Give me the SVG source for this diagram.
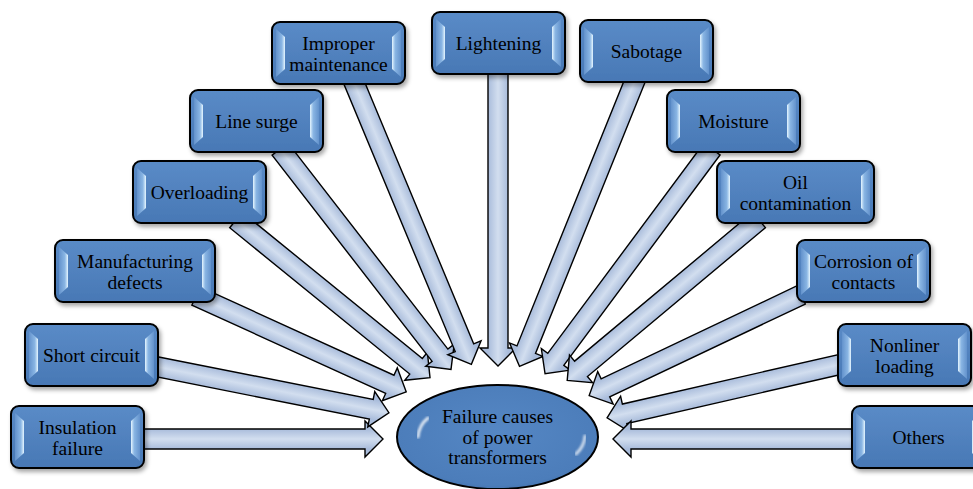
<svg xmlns="http://www.w3.org/2000/svg" xmlns:xlink="http://www.w3.org/1999/xlink" width="973" height="489" viewBox="0 0 973 489">
<style>
.box{fill:url(#boxg);stroke:#000;stroke-width:2;}
.lbl{font-family:"Liberation Serif","Times New Roman",serif;font-size:19.5px;fill:#000;text-anchor:middle;}
.arr{fill:url(#arrg);stroke:#000;stroke-width:1.4;stroke-linejoin:miter;}
</style>
<defs>
<linearGradient id="boxg" x1="0" y1="0" x2="0" y2="1">
<stop offset="0" stop-color="#5a8bc7"/>
<stop offset="1" stop-color="#4878b5"/>
</linearGradient>
<linearGradient id="bevL" x1="0" y1="0" x2="1" y2="0">
<stop offset="0" stop-color="#6392cc"/>
<stop offset="0.65" stop-color="#8ab6e4"/>
<stop offset="1" stop-color="#e6f6ff"/>
</linearGradient>
<linearGradient id="bevR" x1="1" y1="0" x2="0" y2="0">
<stop offset="0" stop-color="#6392cc"/>
<stop offset="0.65" stop-color="#8ab6e4"/>
<stop offset="1" stop-color="#e6f6ff"/>
</linearGradient>
<linearGradient id="arrg" gradientUnits="userSpaceOnUse" x1="0" y1="-10" x2="0" y2="10">
<stop offset="0" stop-color="#a9bcdb"/>
<stop offset="0.5" stop-color="#d2deef"/>
<stop offset="1" stop-color="#a9bcdb"/>
</linearGradient>
<radialGradient id="ellg" cx="0.5" cy="0.45" r="0.6">
<stop offset="0" stop-color="#5587c4"/>
<stop offset="0.85" stop-color="#4c7dba"/>
<stop offset="1" stop-color="#3f6ea8"/>
</radialGradient>
<filter id="sh" x="-10%" y="-10%" width="125%" height="135%">
<feDropShadow dx="2" dy="3" stdDeviation="2" flood-color="#000" flood-opacity="0.35"/>
</filter>
<filter id="blur1"><feGaussianBlur stdDeviation="1.2"/></filter>
<g id="bev133">
<path d="M4,7 L13,15 L13,47 L4,55 Z" fill="url(#bevL)"/>
<path d="M129,7 L120,15 L120,47 L129,55 Z" fill="url(#bevR)"/>
</g>
<g id="bev157">
<path d="M4,7 L13,15 L13,47 L4,55 Z" fill="url(#bevL)"/>
<path d="M153,7 L144,15 L144,47 L153,55 Z" fill="url(#bevR)"/>
</g>
<g id="bev160">
<path d="M4,7 L13,15 L13,47 L4,55 Z" fill="url(#bevL)"/>
<path d="M156,7 L147,15 L147,47 L156,55 Z" fill="url(#bevR)"/>
</g>
</defs>

<g id="connectors">
<path class="arr" transform="translate(140,439) rotate(0)" d="M0,-10 H225 V-18 L243,0 L225,18 V10 H0 Z"/>
<path class="arr" transform="translate(153,366) rotate(11.2)" d="M0,-10 H222.5 V-18 L240.5,0 L222.5,18 V10 H0 Z"/>
<path class="arr" transform="translate(196,296) rotate(24.5)" d="M0,-10 H213 V-18 L231,0 L213,18 V10 H0 Z"/>
<path class="arr" transform="translate(236,220) rotate(39.1)" d="M0,-10 H232 V-18 L250,0 L232,18 V10 H0 Z"/>
<path class="arr" transform="translate(280,149) rotate(52.2)" d="M0,-10 H261 V-18 L279,0 L261,18 V10 H0 Z"/>
<path class="arr" transform="translate(353,80) rotate(67.4)" d="M0,-10 H290 V-18 L308,0 L290,18 V10 H0 Z"/>
<path class="arr" transform="translate(498,71) rotate(90)" d="M0,-10 H277 V-18 L295,0 L277,18 V10 H0 Z"/>
<path class="arr" transform="translate(636,78) rotate(112)" d="M0,-10 H293 V-18 L311,0 L293,18 V10 H0 Z"/>
<path class="arr" transform="translate(712,149) rotate(126.6)" d="M0,-10 H262 V-18 L280,0 L262,18 V10 H0 Z"/>
<path class="arr" transform="translate(759,220) rotate(140.1)" d="M0,-10 H232 V-18 L250,0 L232,18 V10 H0 Z"/>
<path class="arr" transform="translate(801,295) rotate(154.6)" d="M0,-10 H216.5 V-18 L234.5,0 L216.5,18 V10 H0 Z"/>
<path class="arr" transform="translate(842,364) rotate(167.1)" d="M0,-10 H223 V-18 L241,0 L223,18 V10 H0 Z"/>
<path class="arr" transform="translate(856,439) rotate(180)" d="M0,-10 H225 V-18 L243,0 L225,18 V10 H0 Z"/>
</g>

<g id="n-insulation" transform="translate(11,406)">
<rect class="box" width="133" height="62" rx="8" filter="url(#sh)"/><use href="#bev133"/>
<text class="lbl" x="66.5" y="27.5">Insulation</text><text class="lbl" x="66.5" y="48.5">failure</text>
</g>
<g id="n-short" transform="translate(25,324)">
<rect class="box" width="133" height="62" rx="8" filter="url(#sh)"/><use href="#bev133"/>
<text class="lbl" x="66.5" y="37.5">Short circuit</text>
</g>
<g id="n-manufacturing" transform="translate(55,240)">
<rect class="box" width="160" height="62" rx="8" filter="url(#sh)"/><use href="#bev160"/>
<text class="lbl" x="80" y="27.5">Manufacturing</text><text class="lbl" x="80" y="48.5">defects</text>
</g>
<g id="n-overloading" transform="translate(133,161)">
<rect class="box" width="133" height="62" rx="8" filter="url(#sh)"/><use href="#bev133"/>
<text class="lbl" x="66.5" y="37.5">Overloading</text>
</g>
<g id="n-linesurge" transform="translate(190,90)">
<rect class="box" width="133" height="62" rx="8" filter="url(#sh)"/><use href="#bev133"/>
<text class="lbl" x="66.5" y="37.5">Line surge</text>
</g>
<g id="n-improper" transform="translate(272,22)">
<rect class="box" width="133" height="62" rx="8" filter="url(#sh)"/><use href="#bev133"/>
<text class="lbl" x="66.5" y="27.5">Improper</text><text class="lbl" x="66.5" y="48.5">maintenance</text>
</g>
<g id="n-lightening" transform="translate(432,12)">
<rect class="box" width="133" height="62" rx="8" filter="url(#sh)"/><use href="#bev133"/>
<text class="lbl" x="66.5" y="37.5">Lightening</text>
</g>
<g id="n-sabotage" transform="translate(580,20)">
<rect class="box" width="133" height="62" rx="8" filter="url(#sh)"/><use href="#bev133"/>
<text class="lbl" x="66.5" y="37.5">Sabotage</text>
</g>
<g id="n-moisture" transform="translate(667,90)">
<rect class="box" width="133" height="62" rx="8" filter="url(#sh)"/><use href="#bev133"/>
<text class="lbl" x="66.5" y="37.5">Moisture</text>
</g>
<g id="n-oil" transform="translate(717,161)">
<rect class="box" width="157" height="62" rx="8" filter="url(#sh)"/><use href="#bev157"/>
<text class="lbl" x="78.5" y="27.5">Oil</text><text class="lbl" x="78.5" y="48.5">contamination</text>
</g>
<g id="n-corrosion" transform="translate(797,240)">
<rect class="box" width="133" height="62" rx="8" filter="url(#sh)"/><use href="#bev133"/>
<text class="lbl" x="66.5" y="27.5">Corrosion of</text><text class="lbl" x="66.5" y="48.5">contacts</text>
</g>
<g id="n-nonliner" transform="translate(838,324)">
<rect class="box" width="133" height="62" rx="8" filter="url(#sh)"/><use href="#bev133"/>
<text class="lbl" x="66.5" y="27.5">Nonliner</text><text class="lbl" x="66.5" y="48.5">loading</text>
</g>
<g id="n-others" transform="translate(852,406)">
<rect class="box" width="133" height="62" rx="8" filter="url(#sh)"/><use href="#bev133"/>
<text class="lbl" x="66.5" y="37.5">Others</text>
</g>

<g id="n-center">
<ellipse cx="497.5" cy="437" rx="100.5" ry="52" fill="url(#ellg)" stroke="#000" stroke-width="2"/>
<path d="M418,437 Q419,425 428,418" fill="none" stroke="#ffffff" stroke-width="3" stroke-linecap="round" opacity="0.8" filter="url(#blur1)"/>
<path d="M585,436 Q584,447 576,454" fill="none" stroke="#ffffff" stroke-width="3" stroke-linecap="round" opacity="0.7" filter="url(#blur1)"/>
<text class="lbl" x="497.5" y="423">Failure causes</text>
<text class="lbl" x="497.5" y="443.5">of power</text>
<text class="lbl" x="497.5" y="464">transformers</text>
</g>
</svg>
